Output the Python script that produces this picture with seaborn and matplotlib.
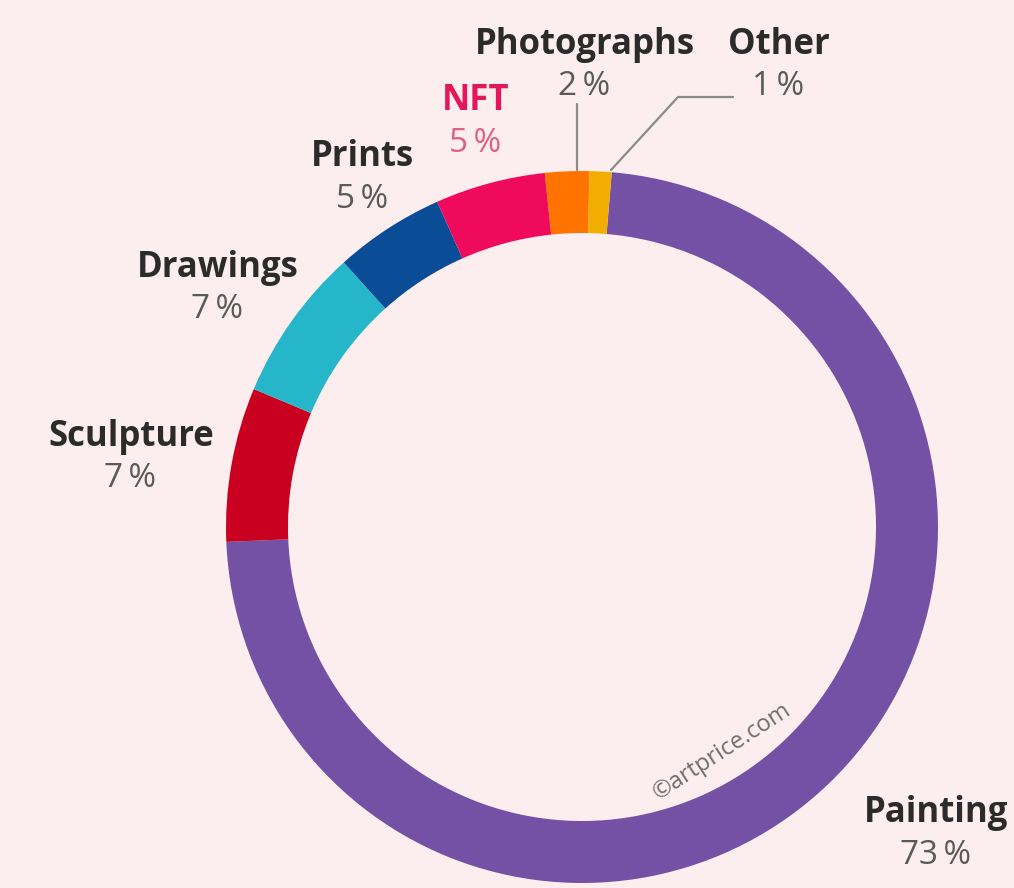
# -*- coding: utf-8 -*-
# Art market share by medium - donut chart
import matplotlib.pyplot as plt
import seaborn as sns

# data
#==============================================================================
categories = ["Painting", "Sculpture", "Drawings", "Prints", "NFT", "Photographs", "Other"]
shares = [73, 7, 7, 5, 5, 2, 1]
pct_labels = ["73%", "7%", "7%", "5%", "5%", "2%", "1%"]
colors = ["#7451A4", "#C90020", "#26B6CA", "#0B4C97", "#EF0A5B", "#FF7400", "#F1AE00"]

# label positions in image pixels (x, y of the name line)
label_pos = {
    "Painting": (936, 813),
    "Sculpture": (131, 437),
    "Drawings": (218, 268),
    "Prints": (363, 157),
    "NFT": (476, 101),
    "Photographs": (585, 45),
    "Other": (779, 45),
}

sns.set_style("white")
plt.rcParams['font.family'] = ['Open Sans', 'DejaVu Sans']

W, H = 1014, 888
bg = "#FCEEEE"
fig = plt.figure(figsize=(W / 100, H / 100), dpi=100, facecolor=bg)
ax = fig.add_axes([0, 0, 1, 1])
ax.set_facecolor(bg)

cx, cy, r = 582, H - 527, 356
palette = sns.color_palette(colors)
ax.pie(shares, colors=palette, startangle=85.2, counterclock=False,
       center=(cx, cy), radius=r,
       wedgeprops=dict(width=62, edgecolor="none", linewidth=0))

ax.set_xlim(0, W)
ax.set_ylim(0, H)
ax.set_aspect("equal")
ax.axis("off")

# labels
for cat, pct in zip(categories, pct_labels):
    x, y = label_pos[cat]
    name_col = "#E5175C" if cat == "NFT" else "#2B2B2B"
    pct_col = "#E0608A" if cat == "NFT" else "#5A5A5A"
    ax.text(x, H - y, cat, ha="center", va="center", fontsize=25,
            fontweight="bold", color=name_col)
    ax.text(x - 1, H - y - 42, pct.replace("%", " %").replace(" ", "\u2009"),
            ha="center", va="center", fontsize=24, color=pct_col)

# leader lines for the thin slices
ax.plot([577, 577], [H - 104, H - 170], color="#8A8A8A", lw=1.6)
ax.plot([611, 678, 733], [H - 170, H - 97, H - 97], color="#8A8A8A", lw=1.6)

ax.text(722, H - 752, "©artprice.com", rotation=33, ha="center", va="center",
        fontsize=17, color="#6E6E6E")

fig.savefig("out.png", dpi=100, facecolor=bg)
